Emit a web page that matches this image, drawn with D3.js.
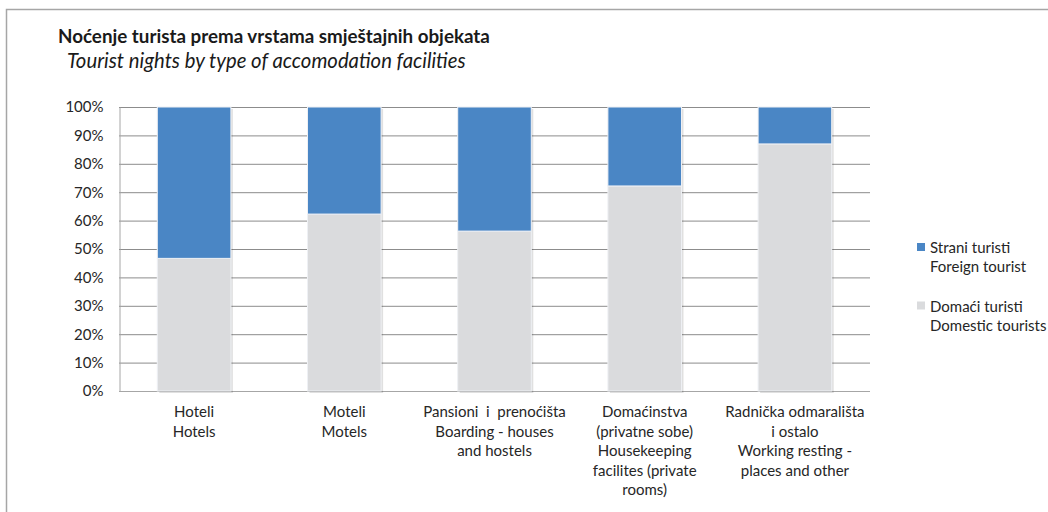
<!DOCTYPE html>
<html>
<head>
<meta charset="utf-8">
<script src="https://cdn.jsdelivr.net/npm/d3@7"></script>
<style>
  body { margin: 0; background: #fff; }
  svg { font-family: Lato, "Open Sans", sans-serif; }
</style>
</head>
<body>
<svg id="chart" width="1048" height="512"></svg>
<script>
// ---- data ----
var categories = ["Hoteli", "Moteli", "Pansioni", "Domacinstva", "Radnicka"];
var categoryLabels = [
    ["Hoteli", "Hotels"],
    ["Moteli", "Motels"],
    ["Pansioni  i  prenoćišta", "Boarding - houses", "and hostels"],
    ["Domaćinstva", "(privatne sobe)", "Housekeeping", "facilites (private", "rooms)"],
    ["Radnička odmarališta", "i ostalo", "Working resting -", "places and other"]
];
var domestic = [46.7, 62.3, 56.3, 72.2, 87.0];
var foreign = [53.3, 37.7, 43.7, 27.8, 13.0];
var yTicks = [0, 10, 20, 30, 40, 50, 60, 70, 80, 90, 100];
var seriesNames = [
    ["Strani turisti", "Foreign tourist"],
    ["Domaći turisti", "Domestic tourists"]
];

var blue = "#4a86c5", grey = "#dadbdd";
var labelSize = 15;

var svg = d3.select("#chart");

// outer frame
svg.append("rect")
    .attr("x", 6.5).attr("y", 9.5)
    .attr("width", 1060).attr("height", 520)
    .attr("fill", "none").attr("stroke", "#a6a6a6").attr("stroke-width", 1.5);

// titles
svg.append("text").attr("x", 58).attr("y", 43)
    .attr("font-weight", "bold").attr("font-size", 18.8).attr("fill", "#1a1a1a")
    .text("Noćenje turista prema vrstama smještajnih objekata");
svg.append("text").attr("x", 67).attr("y", 68)
    .attr("font-style", "italic").attr("font-size", 20.3).attr("fill", "#1a1a1a")
    .text("Tourist nights by type of accomodation facilities");

var plotLeft = 119, plotRight = 870, plotTop = 107, plotBottom = 391;

var x = d3.scaleBand().domain(categories).range([plotLeft, plotRight]).paddingInner(0.51).paddingOuter(0.255);
var y = d3.scaleLinear().domain([0, 100]).range([plotBottom, plotTop]);

// gridlines
svg.append("g").selectAll("line")
    .data(yTicks.filter(function(d) { return d > 0; }))
    .enter().append("line")
    .attr("x1", plotLeft).attr("x2", plotRight)
    .attr("y1", function(d) { return y(d) + 0.5; })
    .attr("y2", function(d) { return y(d) + 0.5; })
    .attr("stroke", "#8c8c8c").attr("stroke-width", 1);

// y axis
var yAxis = svg.append("g")
    .attr("transform", "translate(" + (plotLeft + 0.5) + ",0)")
    .call(d3.axisLeft(y).tickValues(yTicks).tickSize(0).tickPadding(16)
        .tickFormat(function(d) { return d + "%"; }));
yAxis.select(".domain").attr("stroke", "#a6a6a6");
yAxis.selectAll("text").attr("font-size", labelSize).attr("fill", "#262626")
    .attr("font-family", "Lato, 'Open Sans', sans-serif");

// bottom axis line
svg.append("line")
    .attr("x1", plotLeft).attr("x2", plotRight)
    .attr("y1", plotBottom + 0.5).attr("y2", plotBottom + 0.5)
    .attr("stroke", "#a6a6a6");

// stacked bars
var table = categories.map(function(c, i) {
    return { cat: c, domestic: domestic[i], foreign: foreign[i] };
});
var stack = d3.stack().keys(["domestic", "foreign"])(table);
var colors = { domestic: grey, foreign: blue };

// soft shadow
svg.append("g").selectAll("rect")
    .data(table)
    .enter().append("rect")
    .attr("x", function(d) { return x(d.cat) + 2; })
    .attr("y", y(100) + 2)
    .attr("width", x.bandwidth())
    .attr("height", y(0) - y(100))
    .attr("fill", "#000").attr("opacity", 0.12);

svg.append("g").selectAll("g")
    .data(stack)
    .enter().append("g")
    .attr("fill", function(d) { return colors[d.key]; })
    .selectAll("rect")
    .data(function(d) { return d; })
    .enter().append("rect")
    .attr("x", function(d) { return x(d.data.cat); })
    .attr("y", function(d) { return y(d[1]); })
    .attr("width", x.bandwidth())
    .attr("height", function(d) { return y(d[0]) - y(d[1]); })
    .attr("stroke", "#eef0f4").attr("stroke-width", 1);

// category labels
var lab = svg.append("g").selectAll("text")
    .data(categories)
    .enter().append("text")
    .attr("text-anchor", "middle")
    .attr("font-size", labelSize).attr("fill", "#262626")
    .attr("transform", function(d) { return "translate(" + (x(d) + x.bandwidth() / 2) + ",417)"; });
lab.selectAll("tspan")
    .data(function(d, i) { return categoryLabels[i]; })
    .enter().append("tspan")
    .attr("x", 0)
    .attr("y", function(d, i) { return i * 19.5; })
    .attr("xml:space", "preserve")
    .text(function(d) { return d; });

// legend
var legend = svg.append("g").attr("transform", "translate(917,243)");
var item = legend.selectAll("g")
    .data(seriesNames)
    .enter().append("g")
    .attr("transform", function(d, i) { return "translate(0," + i * 58.5 + ")"; });
item.append("rect")
    .attr("width", 8).attr("height", 8)
    .attr("fill", function(d, i) { return i === 0 ? blue : grey; });
item.append("text")
    .attr("font-size", labelSize).attr("fill", "#262626")
    .selectAll("tspan")
    .data(function(d) { return d; })
    .enter().append("tspan")
    .attr("x", 13)
    .attr("y", function(d, i) { return 10 + i * 19; })
    .text(function(d) { return d; });
</script>
</body>
</html>
